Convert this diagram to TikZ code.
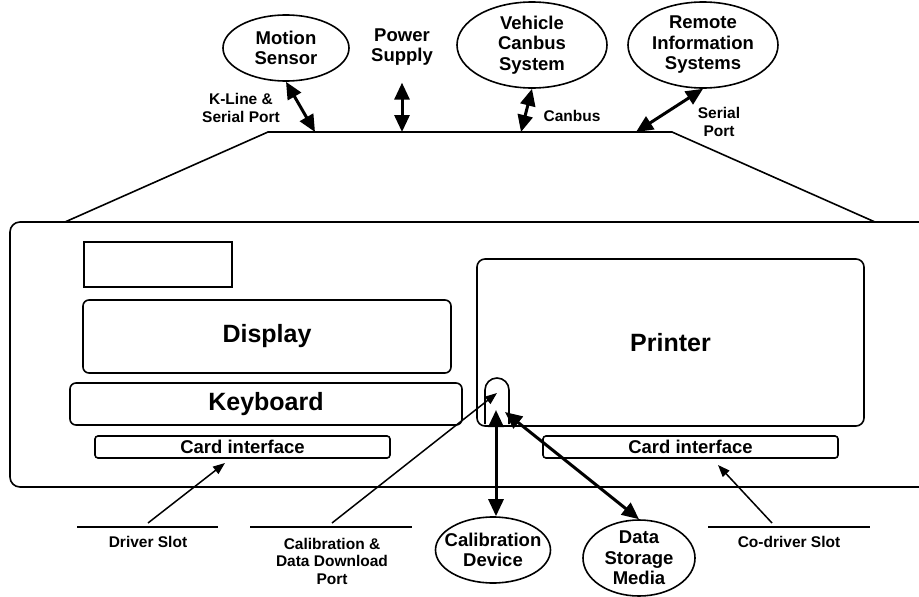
\documentclass[tikz,border=0pt]{standalone}
\usepackage{fontspec}
\setmainfont{Liberation Sans}
\usetikzlibrary{positioning}
\usetikzlibrary{arrows.meta,shapes.geometric}

\begin{document}
\begin{tikzpicture}[x=1pt,y=-1pt,line width=1.6pt,
	ext/.style={draw, ellipse, inner sep=0pt},
	box/.style={draw, rounded corners=6pt, inner sep=0pt},
	big/.style={font=\bfseries\fontsize{25}{27}\selectfont},
	lbl/.style={align=center, font=\bfseries\fontsize{18.5}{20.5}\selectfont},
	sml/.style={align=center, font=\bfseries\fontsize{15.5}{17.5}\selectfont},
	dbl/.style={{Triangle[length=17pt,width=15pt]}-{Triangle[length=17pt,width=15pt]}, line width=3pt},
	thinarr/.style={-{Triangle[length=12pt,width=9pt]}, line width=1.5pt},
	slotline/.style={line width=2.8pt}]
		\useasboundingbox (0,0) rectangle (919,597);
		% outside units
		\node (ms) [ext, minimum width=126pt, minimum height=66pt, label={[lbl]center:Motion\\Sensor}] at (286,48) {};
		\node (ps) [lbl] at (402,47) {Power\\Supply};
		\node (vcs) [ext, minimum width=150pt, minimum height=86pt, label={[lbl]center:Vehicle\\Canbus\\System}] at (532,45) {};
		\node (ris) [ext, minimum width=150pt, minimum height=86pt, label={[lbl]center:Remote\\Information\\Systems}] at (703,45) {};
		\node (kl) [sml] at (241,108) {K-Line \&\\Serial Port};
		\node (cb) [sml] at (572,116) {Canbus};
		\node (sp) [sml] at (719,122) {Serial\\Port};
		% housing
		\draw (65,222) -- (268,132) -- (672,132) -- (875,222);
		\draw[rounded corners=10pt] (940,222) -- (10,222) -- (10,487) -- (940,487);
		\coordinate (t1) at (315,132);
		\coordinate (t2) at (402,132);
		\coordinate (t3) at (521,132);
		\coordinate (t4) at (636,132);
		% front panel
		\node (win) [draw, inner sep=0pt, minimum width=148pt, minimum height=45pt] at (158,264.5) {};
		\node (disp) [box, big, minimum width=368pt, minimum height=73pt] at (267,336.5) {Display};
		\node (kb) [box, big, minimum width=392pt, minimum height=42pt] at (266,404) {Keyboard};
		\node (ci1) [box, lbl, rounded corners=3pt, minimum width=295pt, minimum height=22pt] at (242.5,447) {Card interface};
		\node (pr) [box, big, rounded corners=8pt, minimum width=387pt, minimum height=167pt] at (670.5,342.5) {Printer};
		\node (ci2) [box, lbl, rounded corners=3pt, minimum width=295pt, minimum height=22pt] at (690.5,447) {Card interface};
		\draw[rounded corners=12pt] (485,424) -- (485,378) -- (509,378) -- (509,424);
		\coordinate (s1) at (497,393);
		\coordinate (s2) at (496,410);
		\coordinate (s3) at (505,412);
		% slots
		\draw[slotline] (77,527) -- (218,527);
		\draw[slotline] (250,527) -- (412,527);
		\draw[slotline] (708,527) -- (870,527);
		\node (dsl) [sml] at (148,542) {Driver Slot};
		\node (cdp) [sml] at (332,561) {Calibration \&\\Data Download\\Port};
		\node (cds) [sml] at (789,542) {Co-driver Slot};
		\coordinate (b1) at (148,523);
		\coordinate (b2) at (332,523);
		\coordinate (b3) at (772,523);
		\coordinate (h1) at (225,463);
		\coordinate (h3) at (718,465);
		\node (cald) [ext, minimum width=115pt, minimum height=66pt, label={[lbl]center:Calibration\\Device}] at (493,550) {};
		\node (dsm) [ext, minimum width=112pt, minimum height=76pt, label={[lbl]center:Data\\Storage\\Media}] at (639,558) {};
		% connections
		\draw[dbl] (ms.south) -- (t1);
		\draw[dbl] ([yshift=-13pt]ps.south) -- (t2);
		\draw[dbl] (vcs.south) -- (t3);
		\draw[dbl] (ris.south) -- (t4);
		\draw[thinarr] (b1) -- (h1);
		\draw[thinarr] (b2) -- (s1);
		\draw[thinarr] (b3) -- (h3);
		\draw[dbl] (s2) -- (s2 |- cald.north);
		\draw[dbl] (s3) -- (dsm.north);
\end{tikzpicture}
\end{document}
